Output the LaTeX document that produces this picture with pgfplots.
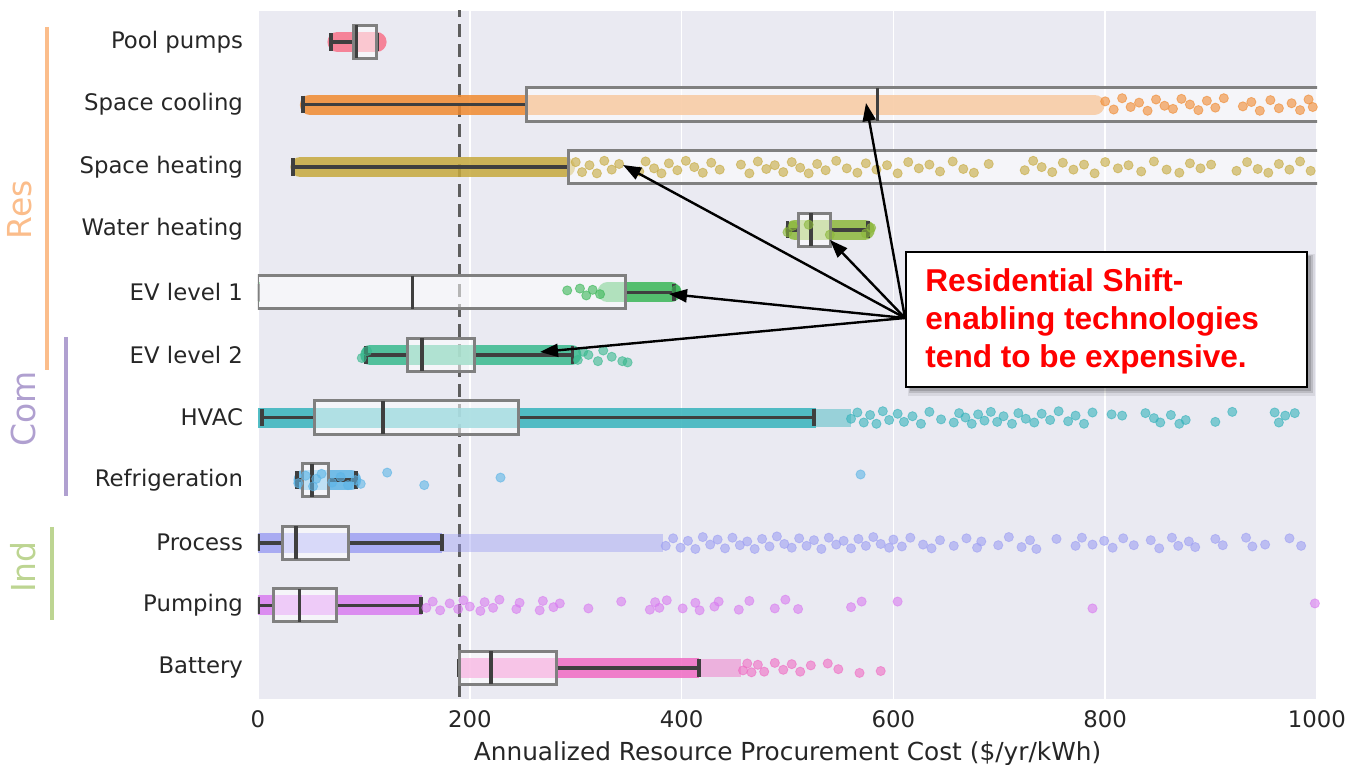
\documentclass[border=0pt]{standalone}
\usepackage{pgfplots}
\pgfplotsset{compat=1.18}
\usepgfplotslibrary{statistics}
\usepackage{fontspec}
\setmainfont{DejaVu Sans}
\newfontfamily\arialf{Liberation Sans}
\usetikzlibrary{arrows.meta}
\definecolor{bg}{HTML}{EAEAF2}
\definecolor{c0}{HTML}{F77189}
\definecolor{c1}{HTML}{F08A30}
\definecolor{c2}{HTML}{C6A93D}
\definecolor{c3}{HTML}{8CB83B}
\definecolor{c4}{HTML}{3AB757}
\definecolor{c5}{HTML}{38B98E}
\definecolor{c6}{HTML}{36B3BC}
\definecolor{c7}{HTML}{5DB5E6}
\definecolor{c8}{HTML}{9EA0F3}
\definecolor{c9}{HTML}{D97DF0}
\definecolor{c10}{HTML}{F06CC4}
\definecolor{boxgray}{HTML}{808080}
\definecolor{whisk}{HTML}{3F3F3F}
\definecolor{txt}{HTML}{262626}
\definecolor{dashgray}{HTML}{5E5E5E}
\definecolor{rescol}{HTML}{FBBD8B}
\definecolor{comcol}{HTML}{B0A0D0}
\definecolor{indcol}{HTML}{BDD592}
\pgfplotsset{
  band/.style={line width=10pt, color=#1, opacity=0.85, line cap=round},
  sband/.style={line width=10pt, color=#1, opacity=0.85, line cap=butt},
  lband/.style={line width=9pt, color=#1, opacity=0.45, line cap=butt},
  dots/.style={only marks, mark=*, mark size=2.3pt, color=#1, opacity=0.6, mark options={draw=none, fill=#1}},
  bx/.style={boxplot/draw direction=x, draw=boxgray, line width=1.5pt, fill=white, fill opacity=0.55,
    boxplot/every whisker/.style={draw=whisk, line width=1.8pt},
    boxplot/every median/.style={draw=whisk, line width=1.8pt}},
}
\begin{document}
\begin{tikzpicture}
\path[use as bounding box] (0,0) rectangle (675pt,382.5pt);
\begin{axis}[
  at={(129pt,32.9pt)}, anchor=south west,
  width=529.5pt, height=344.3pt, scale only axis,
  xmin=0, xmax=1000, ymin=-0.5, ymax=10.5, y dir=reverse,
  axis background/.style={fill=bg},
  axis line style={draw=none},
  major tick length=0pt,
  xtick={0,200,400,600,800,1000},
  xticklabels={0,200,400,600,800,1000},
  ytick={0,1,2,3,4,5,6,7,8,9,10},
  yticklabels={Pool pumps,Space cooling,Space heating,Water heating,EV level 1,EV level 2,HVAC,Refrigeration,Process,Pumping,Battery},
  xmajorgrids, grid style={white, line width=0.8pt},
  tick label style={font=\fontsize{11.4}{13}\selectfont, text=txt},
  xlabel={Annualized Resource Procurement Cost (\$/yr/kWh)},
  label style={font=\fontsize{12.4}{14}\selectfont, text=txt},
  xlabel style={yshift=0pt},
  xticklabel style={yshift=-2pt},
  yticklabel style={xshift=-4pt},
]
% threshold
\addplot[dash pattern=on 6.5pt off 3.5pt, line width=1.5pt, color=dashgray] coordinates {(190,-0.6) (190,10.6)};

% dense bands
\addplot[band=c0] coordinates {(75,0) (112,0)};
\addplot[band=c1] coordinates {(49,1) (790,1)};
\addplot[band=c2] coordinates {(40,2) (290,2)};
\addplot[band=c3] coordinates {(507,3) (573,3)};
\addplot[band=c4] coordinates {(330,4) (390,4)};
\addplot[sband=c4] coordinates {(0,4) (2,4)};
\addplot[band=c5] coordinates {(106,5) (296,5)};
\addplot[sband=c6] coordinates {(0,6) (527,6)};
\addplot[lband=c6] coordinates {(527,6) (560,6)};
\addplot[band=c7] coordinates {(43,7) (88,7)};
\addplot[sband=c8] coordinates {(0,8) (174,8)};
\addplot[lband=c8] coordinates {(174,8) (382,8)};
\addplot[sband=c9] coordinates {(0,9) (155,9)};
\addplot[sband=c10] coordinates {(190,10) (416,10)};
\addplot[lband=c10] coordinates {(416,10) (456,10)};

% sparse points
\addplot[dots=c1] coordinates {(800,0.95)(808,1.08)(816,0.9)(824,1.04)(832,0.97)(840,1.1)(848,0.92)(856,1.02)(864,1.07)(872,0.91)(880,1.0)(888,1.09)(896,0.94)(904,1.05)(912,0.9)(930,1.03)(938,0.96)(946,1.1)(956,0.93)(964,1.06)(976,0.98)(984,1.09)(992,0.92)(996,1.04)};
\addplot[dots=c2] coordinates {(300,1.92)(306,2.08)(313,1.97)(320,2.1)(327,1.9)(334,2.04)(341,1.95)(360,2.07)(366,1.91)(374,2.02)(381,2.1)(388,1.94)(396,2.05)(404,1.9)(412,2.0)(420,2.09)(428,1.93)(436,2.04)(456,1.96)(464,2.1)(472,1.91)(480,2.03)(488,1.97)(496,2.08)(504,1.92)(512,2.01)(520,2.1)(528,1.95)(536,2.05)(546,1.9)(556,2.02)(566,2.09)(574,1.94)(584,2.04)(594,1.97)(604,2.1)(614,1.92)(624,2.02)(634,1.96)(644,2.07)(656,1.91)(666,2.03)(676,2.09)(690,1.95)(724,2.05)(732,1.9)(740,2.0)(750,2.08)(760,1.93)(770,2.04)(780,1.96)(790,2.1)(800,1.92)(812,2.02)(822,1.97)(834,2.07)(846,1.91)(858,2.04)(870,2.09)(880,1.94)(890,2.02)(900,1.96)(924,2.06)(934,1.92)(944,2.03)(954,2.09)(964,1.95)(974,2.04)(984,1.91)(994,2.06)};
\addplot[dots=c3] coordinates {(500,3.04)(505,2.94)(574,3.06)(579,2.97)(540,3.08)(520,2.92)};
\addplot[dots=c4] coordinates {(292,3.97)(304,3.94)(316,3.96)(323,4.03)(310,4.05)(395,3.96)};
\addplot[dots=c5] coordinates {(98,5.05)(103,4.94)(302,5.08)(307,4.95)(321,5.1)(326,4.93)(334,5.03)(344,5.1)(349,5.12)(312,5.0)};
\addplot[dots=c6] coordinates {(560,6.02)(566,5.92)(572,6.08)(578,5.96)(584,6.1)(590,5.9)(596,6.04)(604,5.94)(610,6.07)(618,5.98)(626,6.1)(634,5.91)(645,6.03)(657,6.08)(662,5.93)(668,6.0)(674,6.1)(680,5.95)(686,6.05)(692,5.91)(698,6.07)(704,5.98)(712,6.1)(718,5.93)(725,6.02)(733,6.08)(740,5.94)(748,6.04)(756,5.9)(765,6.06)(772,5.97)(780,6.1)(788,5.92)(806,5.95)(816,5.97)(838,5.93)(846,6.01)(852,6.08)(862,5.96)(870,6.1)(876,6.04)(904,6.07)(920,5.91)(960,5.92)(964,6.08)(970,5.97)(979,5.93)};
\addplot[dots=c7] coordinates {(38,7.05)(45,6.93)(52,7.1)(60,6.9)(70,7.04)(78,6.95)(85,7.08)(92,7.0)(97,7.06)(55,6.98)(122,6.88)(157,7.08)(229,6.96)(569,6.91)};
\addplot[dots=c8] coordinates {(385,8.05)(392,7.93)(399,8.08)(406,7.97)(413,8.1)(420,7.91)(427,8.03)(434,7.95)(441,8.09)(448,7.92)(455,8.04)(462,7.98)(469,8.1)(476,7.94)(483,8.06)(490,7.9)(497,8.02)(504,8.08)(511,7.93)(518,8.05)(525,7.96)(532,8.1)(539,7.92)(546,8.03)(553,7.97)(560,8.09)(567,7.94)(574,8.05)(581,7.91)(588,8.02)(596,8.08)(600,7.95)(608,8.06)(616,7.92)(628,8.03)(636,8.09)(644,7.96)(657,8.05)(669,7.93)(679,8.08)(683,7.98)(699,8.04)(709,7.91)(721,8.07)(729,7.96)(735,8.1)(754,7.94)(772,8.05)(778,7.92)(788,8.03)(799,7.97)(807,8.08)(817,7.93)(827,8.04)(843,7.96)(851,8.09)(863,7.92)(869,8.05)(879,7.98)(885,8.07)(904,7.94)(911,8.04)(933,7.92)(939,8.06)(951,8.03)(974,7.93)(985,8.05)};
\addplot[dots=c9] coordinates {(159,9.04)(165,8.94)(172,9.08)(181,8.97)(189,9.06)(194,8.92)(200,9.02)(210,9.09)(214,8.95)(222,9.04)(228,8.91)(244,9.06)(247,8.96)(266,9.08)(269,8.93)(279,9.03)(285,8.97)(312,9.05)(343,8.94)(370,9.07)(375,8.95)(379,9.04)(386,8.92)(401,9.05)(413,8.96)(417,9.08)(431,9.02)(435,8.94)(454,9.07)(464,8.93)(488,9.05)(498,8.91)(510,9.06)(560,9.03)(570,8.94)(604,8.94)(788,9.05)(998,8.97)};
\addplot[dots=c10] coordinates {(458,10.04)(462,9.93)(466,10.07)(472,9.95)(478,10.06)(488,9.92)(496,10.03)(504,9.94)(512,10.06)(522,9.96)(538,9.93)(548,10.02)(568,10.08)(588,10.05)};

% boxes
\addplot[bx, boxplot prepared={draw position=0, lower whisker=69, lower quartile=90, median=93, upper quartile=112, upper whisker=113, box extend=0.53, whisker extend=0.28}] coordinates {};
\addplot[bx, boxplot prepared={draw position=1, lower whisker=42.5, lower quartile=254, median=585, upper quartile=1100, upper whisker=1400, box extend=0.53, whisker extend=0.28}] coordinates {};
\addplot[bx, boxplot prepared={draw position=2, lower whisker=33, lower quartile=293, median=1100, upper quartile=1300, upper whisker=1600, box extend=0.53, whisker extend=0.28}] coordinates {};
\addplot[bx, boxplot prepared={draw position=3, lower whisker=500, lower quartile=510, median=522, upper quartile=541, upper whisker=576, box extend=0.53, whisker extend=0.28}] coordinates {};
\addplot[bx, boxplot prepared={draw position=4, lower whisker=0, lower quartile=0, median=146, upper quartile=347, upper whisker=393, box extend=0.53, whisker extend=0.28}] coordinates {};
\addplot[bx, boxplot prepared={draw position=5, lower whisker=102, lower quartile=141, median=155, upper quartile=204, upper whisker=297, box extend=0.53, whisker extend=0.28}] coordinates {};
\addplot[bx, boxplot prepared={draw position=6, lower whisker=3.5, lower quartile=53, median=118, upper quartile=246, upper whisker=525, box extend=0.53, whisker extend=0.28}] coordinates {};
\addplot[bx, boxplot prepared={draw position=7, lower whisker=37, lower quartile=42, median=51, upper quartile=67, upper whisker=92.5, box extend=0.53, whisker extend=0.28}] coordinates {};
\addplot[bx, boxplot prepared={draw position=8, lower whisker=0, lower quartile=23, median=36, upper quartile=85, upper whisker=174, box extend=0.53, whisker extend=0.28}] coordinates {};
\addplot[bx, boxplot prepared={draw position=9, lower whisker=0, lower quartile=15, median=39, upper quartile=74.5, upper whisker=154, box extend=0.53, whisker extend=0.28}] coordinates {};
\addplot[bx, boxplot prepared={draw position=10, lower whisker=190, lower quartile=190, median=220, upper quartile=282, upper whisker=416.5, box extend=0.53, whisker extend=0.28}] coordinates {};
\end{axis}

\begin{scope}[x=0.5pt, y=-0.5pt, yshift=382.5pt]
% group labels
\draw[rescol, line width=1.6pt] (47,27) -- (47,370);
\draw[comcol, line width=1.6pt] (66,337) -- (66,496);
\draw[indcol, line width=1.6pt] (52,527) -- (52,620);
\node[rotate=90, text=rescol, font=\fontsize{16.5}{19}\selectfont] at (20,210) {Res};
\node[rotate=90, text=comcol, font=\fontsize{16.5}{19}\selectfont] at (23,409) {Com};
\node[rotate=90, text=indcol, font=\fontsize{16.5}{19}\selectfont] at (23,567) {Ind};
% arrows
\begin{scope}[line width=1.2pt, -{Triangle[length=9pt,width=6.5pt]}]
\draw (905,318) -- (866,103);
\draw (905,318) -- (623,165);
\draw (905,318) -- (830,240);
\draw (905,318) -- (669,294);
\draw (905,318) -- (540,352);
\end{scope}
% annotation box
\fill[black, opacity=0.08] (908,254) rectangle (1315,396);
\fill[black, opacity=0.12] (909,255) rectangle (1313,393);
\fill[black, opacity=0.15] (910,256) rectangle (1311,391);
\draw[fill=white, line width=0.9pt] (906,252) rectangle (1307,387);
\node[anchor=base west, text=red, font=\arialf\bfseries\fontsize{15.8}{19}\selectfont, inner sep=0pt] at (925,292) {Residential Shift-};
\node[anchor=base west, text=red, font=\arialf\bfseries\fontsize{15.8}{19}\selectfont, inner sep=0pt] at (925,330) {enabling technologies};
\node[anchor=base west, text=red, font=\arialf\bfseries\fontsize{15.8}{19}\selectfont, inner sep=0pt] at (925,368) {tend to be expensive.};
\end{scope}
\end{tikzpicture}
\end{document}
